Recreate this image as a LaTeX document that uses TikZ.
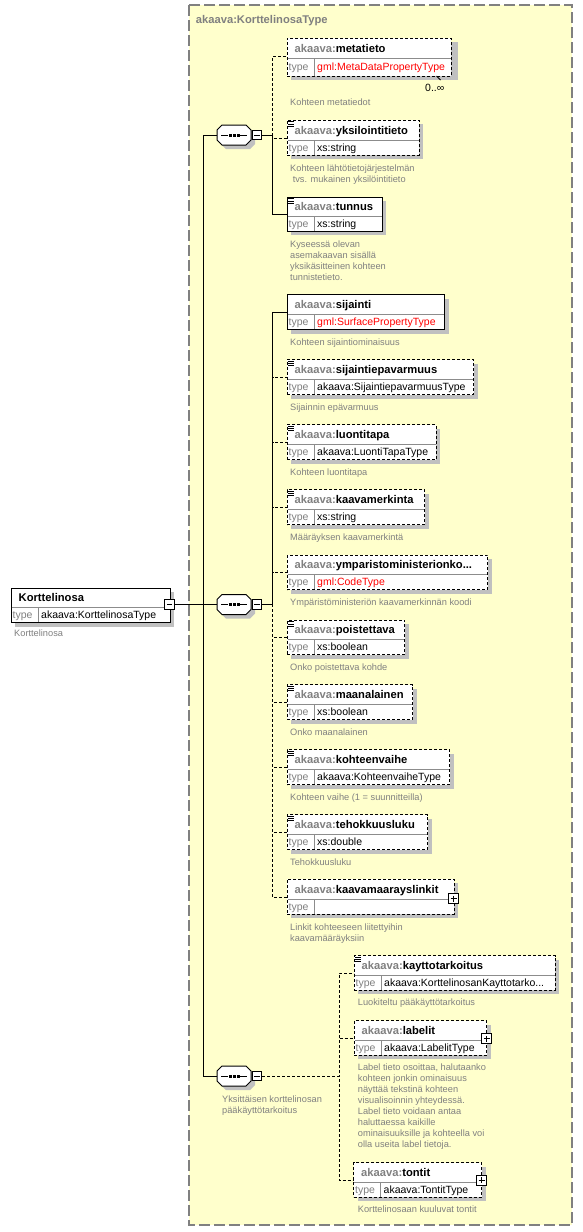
\documentclass[tikz,border=0pt]{standalone}
\usepackage{fontspec}
\setmainfont{Liberation Sans}
\definecolor{bgy}{HTML}{FFFFCC}
\definecolor{shd}{HTML}{C0C0C0}
\definecolor{txg}{HTML}{808080}
\definecolor{gmlred}{HTML}{FF0000}
\definecolor{divg}{HTML}{8C8C8C}
\tikzset{
  elnode/.style={draw=black, fill=white, line width=1pt, inner sep=0pt, outer sep=0pt},
  solidb/.style={solid},
  dashb/.style={dash pattern=on 3pt off 2pt},
  divline/.style={draw=divg, line width=0.9pt},
  nametext/.style={font=\fontsize{11.2}{13}\selectfont\bfseries, inner sep=0pt, anchor=base west},
  typelbl/.style={font=\fontsize{10.5}{12}\selectfont, text=txg, inner sep=0pt, anchor=base west},
  typetxt/.style={font=\fontsize{10.5}{12}\selectfont, inner sep=0pt, anchor=base west},
  desc/.style={font=\fontsize{9.25}{11}\selectfont, text=txg, inner sep=0pt, align=left, anchor=base west},
  conn/.style={draw=black, line width=1pt},
  dconn/.style={conn, dash pattern=on 3pt off 2pt},
  minusbtn/.style={draw=black, fill=white, line width=0.9pt, minimum size=9.5pt, inner sep=0pt,
    path picture={\draw[line width=0.9pt] ([xshift=2pt]path picture bounding box.west) -- ([xshift=-2pt]path picture bounding box.east);}},
  plusbtn/.style={draw=black, fill=white, line width=0.9pt, minimum size=10pt, inner sep=0pt,
    path picture={\draw[line width=0.9pt] ([xshift=2pt]path picture bounding box.west) -- ([xshift=-2pt]path picture bounding box.east);
                  \draw[line width=0.9pt] ([yshift=-2pt]path picture bounding box.north) -- ([yshift=2pt]path picture bounding box.south);}},
  iconline/.style={draw=black, line width=0.8pt}
}
\newcommand\pfx{\textcolor{txg}{akaava:}}
% #1 id, #2 L, #3 T, #4 R, #5 B, #6 divider, #7 border style, #8 name, #9 type
\newcommand\elbox[9]{%
  \fill[shd] ({#2+4},{#3+4}) rectangle ({#4+4},{#5+4});
  \node[elnode,#7,minimum width={(#4)-(#2)},minimum height={(#5)-(#3)},anchor=north west] (#1) at (#2,#3) {};
  \draw[divline] ({#2+0.5},#6) -- ({#4-0.5},#6);
  \draw[divline] ({#2+27},#6) -- ({#2+27},{#5-0.5});
  \node[nametext] (#1-n) at ({#2+7.5},{(#3+#6)/2+4}) {#8};
  \node[typelbl] (#1-tl) at ({#2+1.5},{(#6+#5)/2+3.6}) {type};
  \node[typetxt] (#1-t) at ({#2+30},{(#6+#5)/2+3.6}) {#9};
  \coordinate (#1-in) at (#2,{#6-2});
}
\newcommand\elicon[2]{%
  \draw[iconline] ({#1+1},{#2+1.8}) -- ++(5.5,0);
  \draw[iconline] ({#1+1},{#2+3.9}) -- ++(5.5,0);
  \draw[iconline] ({#1+1},{#2+6}) -- ++(5.5,0);
}
% #1 id, #2 center y
\newcommand\seqc[2]{%
  \begin{scope}[shift={(0,#2)}]
    \fill[shd] (226,-6) -- (250,-6) -- (255,-1) -- (255,9) -- (250,14) -- (226,14) -- (221,9) -- (221,-1) -- cycle;
    \draw[fill=white, line width=1pt] (222,-10) -- (246,-10) -- (251,-5) -- (251,5) -- (246,10) -- (222,10) -- (217,5) -- (217,-5) -- cycle;
    \draw[line width=1pt] (221,0) -- (228,0);
    \draw[line width=1pt] (240,0) -- (247,0);
    \fill (228.5,-1.5) rectangle ++(3,3);
    \fill (232.5,-1.5) rectangle ++(3,3);
    \fill (236.5,-1.5) rectangle ++(3,3);
    \node[inner sep=0pt, outer sep=0pt, minimum width=34pt, minimum height=20pt] (#1) at (234,0) {};
    \node[minusbtn] (#1m) at (256.8,0) {};
  \end{scope}
}
\begin{document}
\begin{tikzpicture}[x=1pt,y=-1pt]
\useasboundingbox (0,0) rectangle (583,1232);
\fill[white] (0,0) rectangle (583,1232);
% complex type frame
\draw[fill=bgy, draw=txg, line width=1.3pt, dash pattern=on 11pt off 4pt] (189,5) rectangle (572,1225);
\node[nametext, text=txg] (ctype) at (195.7,23) {akaava:KorttelinosaType};

% root element
\elbox{root}{11}{588}{170}{622.5}{607.5}{solidb}{Korttelinosa}{akaava:KorttelinosaType}
\node[minusbtn] (rootm) at (169.5,604.5) {};
\node[desc] (root-d) at (14,636.2) {Korttelinosa};

% compositors
\seqc{seqa}{135}
\seqc{seqb}{604.5}
\seqc{seqc}{1076}
\node[desc] (seqc-d) at (222,1113.8) {Yksittäisen korttelinosan\\pääkäyttötarkoitus};

% group 1
\fill[shd] (293,42) rectangle (457.5,80);
\elbox{metatieto}{287}{38}{451}{76}{58}{dashb}{\pfx metatieto}{\textcolor{gmlred}{gml:MetaDataPropertyType}}
\draw[line width=0.8pt] (436.5,76) -- (440.5,80);
\node[typetxt] (metatieto-occ) at (425,91) {0..∞};
\node[desc] (metatieto-d) at (290,105) {Kohteen metatiedot};

\elbox{yksilointitieto}{287}{120}{419}{155}{140.5}{dashb}{\pfx yksilointitieto}{xs:string}
\elicon{287}{120}
\node[desc] (yksilointitieto-d) at (290,182.2) {Kohteen lähtötietojärjestelmän\\\ tvs. mukainen yksilöintitieto};

\elbox{tunnus}{287}{197}{382}{231}{216.5}{solidb}{\pfx tunnus}{xs:string}
\elicon{287}{197}
\node[desc] (tunnus-d) at (290,280.5) {Kyseessä olevan\\asemakaavan sisällä\\yksikäsitteinen kohteen\\tunnistetieto.};

% group 2
\elbox{sijainti}{287}{294.5}{444.5}{329.5}{314.5}{solidb}{\pfx sijainti}{\textcolor{gmlred}{gml:SurfacePropertyType}}
\node[desc] (sijainti-d) at (290,345.5) {Kohteen sijaintiominaisuus};

\elbox{sijaintiepavarmuus}{287}{359.5}{473.5}{394.5}{379.5}{dashb}{\pfx sijaintiepavarmuus}{akaava:SijaintiepavarmuusType}
\elicon{287}{359.5}
\node[desc] (sijaintiepavarmuus-d) at (290,410.5) {Sijainnin epävarmuus};

\elbox{luontitapa}{287}{424.5}{436}{459.5}{444.5}{dashb}{\pfx luontitapa}{akaava:LuontiTapaType}
\elicon{287}{424.5}
\node[desc] (luontitapa-d) at (290,475.5) {Kohteen luontitapa};

\elbox{kaavamerkinta}{287}{489.5}{424.5}{524.5}{509.5}{dashb}{\pfx kaavamerkinta}{xs:string}
\elicon{287}{489.5}
\node[desc] (kaavamerkinta-d) at (290,540.5) {Määräyksen kaavamerkintä};

\elbox{ymparisto}{287}{555}{487.5}{589.5}{574.5}{dashb}{\pfx ymparistoministerionko...}{\textcolor{gmlred}{gml:CodeType}}
\node[desc] (ymparisto-d) at (290,605.5) {Ympäristöministeriön kaavamerkinnän koodi};

\elbox{poistettava}{287}{620}{404.5}{654.5}{639.5}{dashb}{\pfx poistettava}{xs:boolean}
\elicon{287}{620}
\node[desc] (poistettava-d) at (290,670.5) {Onko poistettava kohde};

\elbox{maanalainen}{287}{684.5}{412.5}{719.5}{704.5}{dashb}{\pfx maanalainen}{xs:boolean}
\elicon{287}{684.5}
\node[desc] (maanalainen-d) at (290,735.5) {Onko maanalainen};

\elbox{kohteenvaihe}{287}{749.5}{449.5}{784.5}{769.5}{dashb}{\pfx kohteenvaihe}{akaava:KohteenvaiheType}
\elicon{287}{749.5}
\node[desc] (kohteenvaihe-d) at (290,800) {Kohteen vaihe (1 = suunnitteilla)};

\elbox{tehokkuusluku}{287}{814.5}{427.5}{849.5}{834.5}{dashb}{\pfx tehokkuusluku}{xs:double}
\elicon{287}{814.5}
\node[desc] (tehokkuusluku-d) at (290,865) {Tehokkuusluku};

\elbox{linkit}{287}{879}{454}{914}{899.5}{dashb}{\pfx kaavamaarayslinkit}{}
\node[plusbtn] (linkit-p) at (453.5,898.7) {};
\node[desc] (linkit-d) at (290,941) {Linkit kohteeseen liitettyihin\\kaavamääräyksiin};

% group 3
\elbox{kayttotarkoitus}{354}{955.5}{555}{990}{975}{dashb}{\pfx kayttotarkoitus}{akaava:KorttelinosanKayttotarko...}
\elicon{354}{955.5}
\node[desc] (kayttotarkoitus-d) at (357.7,1005.8) {Luokiteltu pääkäyttötarkoitus};

\elbox{labelit}{354}{1020.5}{486.5}{1055}{1040.5}{dashb}{\pfx labelit}{akaava:LabelitType}
\node[plusbtn] (labelit-p) at (486.5,1038.5) {};
\node[desc] (labelit-d) at (357.7,1147.8) {Label tieto osoittaa, halutaanko\\kohteen jonkin ominaisuus\\näyttää tekstinä kohteen\\visualisoinnin yhteydessä.\\Label tieto voidaan antaa\\haluttaessa kaikille\\ominaisuuksille ja kohteella voi\\olla useita label tietoja.};

\elbox{tontit}{353.5}{1162.5}{481.5}{1197}{1182.5}{dashb}{\pfx tontit}{akaava:TontitType}
\node[plusbtn] (tontit-p) at (481.5,1180) {};
\node[desc] (tontit-d) at (357.7,1212.8) {Korttelinosaan kuuluvat tontit};

% connectors: root to compositors
\draw[conn] (rootm.east) -- ++(29,0) |- (seqa.west);
\draw[conn] (rootm.east) -- (seqb.west);
\draw[conn] (rootm.east) -- ++(29,0) |- (seqc.west);

% group 1 connectors
\draw[dconn] (seqam.east) -- ++(10.5,0) |- (metatieto-in);
\draw[dconn] (seqam.east) -- ++(10.5,0) |- (yksilointitieto-in);
\draw[conn] (seqam.east) -- ++(10.5,0) |- (tunnus-in);

% group 2 connectors
\draw[dconn] (seqbm.east) -- ++(10.5,0) |- (sijaintiepavarmuus-in);
\draw[dconn] (seqbm.east) -- ++(10.5,0) |- (luontitapa-in);
\draw[dconn] (seqbm.east) -- ++(10.5,0) |- (kaavamerkinta-in);
\draw[dconn] (seqbm.east) -- ++(10.5,0) |- (ymparisto-in);
\draw[dconn] (seqbm.east) -- ++(10.5,0) |- (poistettava-in);
\draw[dconn] (seqbm.east) -- ++(10.5,0) |- (maanalainen-in);
\draw[dconn] (seqbm.east) -- ++(10.5,0) |- (kohteenvaihe-in);
\draw[dconn] (seqbm.east) -- ++(10.5,0) |- (tehokkuusluku-in);
\draw[dconn] (seqbm.east) -- ++(10.5,0) |- (linkit-in);
\draw[conn] (seqbm.east) -- ++(10.5,0) |- (sijainti-in);

% group 3 connectors
\draw[dconn] (seqcm.east) -- ++(77,0) |- (kayttotarkoitus-in);
\draw[dconn] (seqcm.east) -- ++(77,0) |- (labelit-in);
\draw[dconn] (seqcm.east) -- ++(77,0) |- (tontit-in);
\end{tikzpicture}
\end{document}
